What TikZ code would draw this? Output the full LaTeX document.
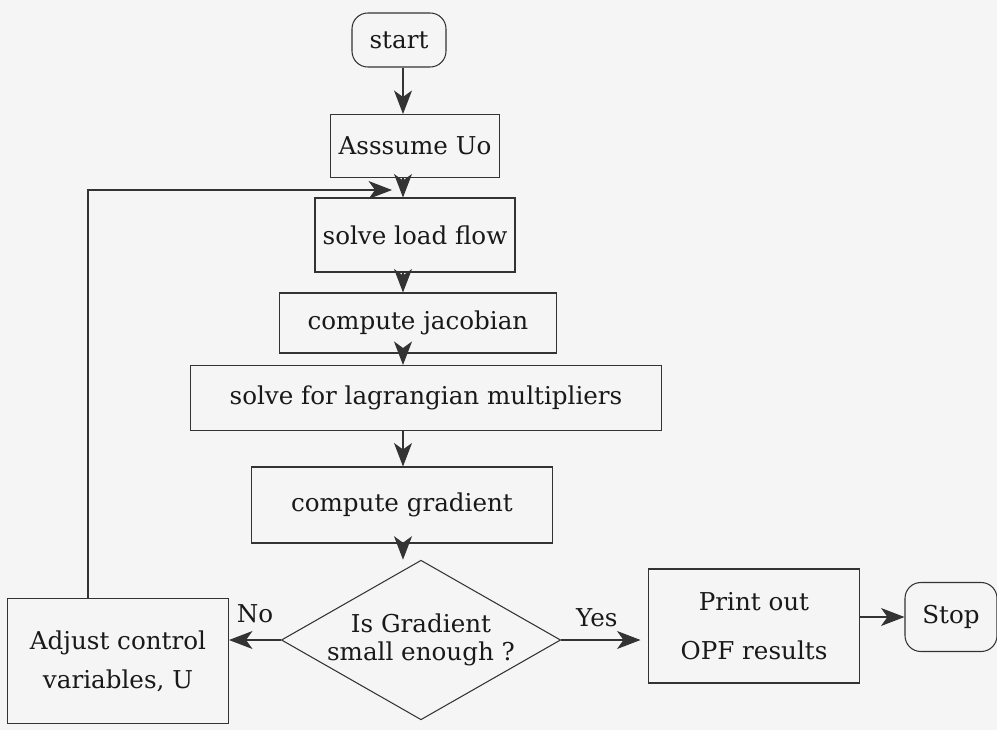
\documentclass[tikz,border=0pt]{standalone}
\usepackage{fontspec}
\setmainfont{DejaVu Serif}
\usetikzlibrary{shapes.geometric,arrows.meta}

\begin{document}
\begin{tikzpicture}[x=0.02cm,y=-0.02cm,
    box/.style={draw=black!80,line width=0.6pt,text=black!90,inner sep=2pt,
                font=\fontsize{14}{16}\selectfont},
    term/.style={box,rounded corners=9pt},
    arr/.style={draw=black!80,line width=0.6pt,
                -{Stealth[length=0.47cm,width=0.36cm,inset=0.13cm]}}]
  \fill[gray!8] (0,0) rectangle (997,730);
  \useasboundingbox (0,0) rectangle (997,730);

  % main column
  \node[term,minimum width=1.88cm,minimum height=1.08cm] (start)  at (399,40)  {start};
  \node[box,minimum width=3.38cm,minimum height=1.26cm]  (assume) at (415,146) {Asssume Uo};
  \node[box,minimum width=4.0cm,minimum height=1.48cm]   (load)   at (415,235) {solve load flow};
  \node[box,minimum width=5.54cm,minimum height=1.2cm]   (jacob)  at (418,323) {compute jacobian};
  \node[box,minimum width=9.44cm,minimum height=1.3cm]   (lagr)   at (426,398) {solve for lagrangian multipliers};
  \node[box,minimum width=6.02cm,minimum height=1.52cm]  (grad)   at (402,505) {compute gradient};
  \node[box,diamond,aspect=1.75,inner sep=0pt,align=center,
        minimum width=5.3cm,minimum height=3.04cm]        (dec)    at (421,640)
        {Is Gradient\\small enough ?};

  % branches
  \node[box,align=center,minimum width=4.42cm,minimum height=2.5cm,
        font=\fontsize{14}{22}\selectfont]               (adjust) at (118,661)
        {Adjust control\\variables, U};
  \node[box,align=center,minimum width=4.22cm,minimum height=2.28cm,
        font=\fontsize{14}{28}\selectfont]               (print)  at (754,626)
        {Print out\\OPF results};
  \node[term,minimum width=1.84cm,minimum height=1.38cm] (stop)   at (951,617) {Stop};

  \coordinate (spine) at (403,0);
  \coordinate (loopin) at (392,190);

  \draw[arr] (spine |- start.south)  -- (spine |- assume.north);
  \draw[arr] (spine |- assume.south) -- (spine |- load.north);
  \draw[arr] (spine |- load.south)   -- (spine |- jacob.north);
  \draw[arr] (spine |- jacob.south)  -- (spine |- lagr.north);
  \draw[arr] (spine |- lagr.south)   -- (spine |- grad.north);
  \draw[arr] (spine |- grad.south)   -- (spine |- dec.north);

  \draw[arr] (dec.west) -- (dec.west -| adjust.east)
    node[pos=0.5,above=6pt,text=black!90,font=\fontsize{14}{16}\selectfont] (no) {No};
  \draw[arr] (dec.east) -- ([xshift=-0.15cm]dec.east -| print.west)
    node[pos=0.45,above=4pt,text=black!90,font=\fontsize{14}{16}\selectfont] (yes) {Yes};
  \draw[arr] (print.east |- stop.west) -- (stop.west);

  % loop back to the load flow
  \draw[arr] ([xshift=-0.6cm]adjust.north) |- (loopin);
\end{tikzpicture}
\end{document}
